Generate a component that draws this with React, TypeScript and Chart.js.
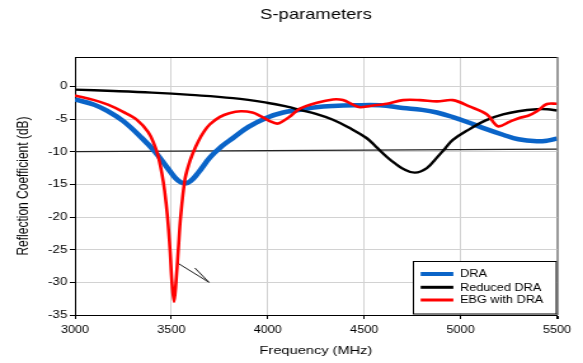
import React, { useEffect, useRef } from 'react';
import { Chart, registerables } from 'chart.js';

Chart.register(...registerables);

const FONT = "'Liberation Sans', Arial, sans-serif";

const chartTitle = 'S-parameters';
const xAxisTitle = 'Frequency (MHz)';
const yAxisTitle = 'Reflection Coefficient (dB)';

const xTicks = [3000, 3500, 4000, 4500, 5000, 5500];
const yTicks = [-35, -30, -25, -20, -15, -10, -5, 0];

const freqDRA = [3000, 3100, 3171, 3250, 3347, 3415, 3480, 3520, 3550, 3575, 3600, 3640, 3700, 3760, 3820, 3900, 3995, 4080, 4167, 4250, 4338, 4450, 4582, 4701, 4800, 4877, 4960, 5049, 5130, 5220, 5300, 5396, 5450, 5500];
const s11DRA = [-2.0, -2.8, -3.8, -5.3, -7.9, -10.0, -12.5, -14.0, -14.7, -14.85, -14.5, -13.2, -10.9, -9.2, -7.9, -6.2, -4.8, -4.0, -3.6, -3.2, -3.0, -2.9, -2.9, -3.3, -3.6, -4.0, -4.7, -5.6, -6.5, -7.4, -8.1, -8.4, -8.3, -8.0];

const freqReduced = [3000, 3200, 3400, 3600, 3820, 3995, 4100, 4167, 4250, 4338, 4420, 4512, 4560, 4618, 4660, 4701, 4763, 4825, 4877, 4920, 4960, 5049, 5130, 5220, 5300, 5396, 5450, 5500];
const s11Reduced = [-0.5, -0.7, -0.95, -1.3, -1.8, -2.5, -3.1, -3.6, -4.2, -5.1, -6.3, -7.9, -9.2, -10.8, -11.8, -12.6, -13.2, -12.5, -10.9, -9.5, -8.2, -6.5, -5.2, -4.3, -3.8, -3.5, -3.5, -3.7];

const freqEBG = [3000, 3100, 3171, 3250, 3320, 3380, 3410, 3430, 3450, 3465, 3480, 3493, 3503, 3514, 3524, 3536, 3548, 3570, 3590, 3612, 3640, 3670, 3700, 3750, 3800, 3860, 3920, 3960, 4010, 4048, 4080, 4115, 4167, 4255, 4338, 4390, 4442, 4478, 4530, 4582, 4618, 4701, 4789, 4877, 4960, 5049, 5137, 5194, 5256, 5308, 5350, 5396, 5448, 5500];
const s11EBG = [-1.4, -2.1, -2.8, -3.9, -5.1, -7.0, -8.8, -10.5, -13.2, -16.0, -20.0, -25.0, -30.0, -33.0, -30.0, -25.0, -20.0, -14.3, -12.0, -10.2, -8.4, -6.9, -5.8, -4.7, -4.1, -3.8, -4.0, -4.5, -5.3, -5.7, -5.3, -4.6, -3.4, -2.5, -2.0, -2.1, -2.8, -3.2, -3.0, -2.8, -2.65, -2.1, -2.1, -2.3, -2.1, -3.1, -4.3, -6.1, -5.4, -4.8, -4.5, -3.8, -2.7, -2.65];

const freqRef = [3000, 5500];
const s11Ref = [-10.0, -9.6];

// arrow annotation: shaft start, tip, wing; gap; wing, tip
const arrowX = [3530, 3695, 3622, NaN, 3579, 3695];
const arrowY = [-27.0, -30.0, -27.8, NaN, -29.0, -30.0];

const legendLabels = ['DRA', 'Reduced DRA', 'EBG with DRA'];
const legendColors = ['#0a64c8', '#000000', '#ff0000'];
const legendWidths = [4, 3, 3];

const zip = (xs: number[], ys: number[]) =>
  xs.map((x, i) => ({ x, y: Number.isNaN(ys[i]) ? null : ys[i] }));

const W = 459;
const H = 363;
const SX = 583 / W;

const textPlugin = {
  id: 'textPlugin',
  afterDraw(chart: any) {
    const { ctx, chartArea } = chart;
    const { left, right, top, bottom } = chartArea;
    ctx.save();
    ctx.strokeStyle = '#000';
    ctx.lineWidth = 1;
    ctx.beginPath();
    ctx.moveTo(left, top + 0.5);
    ctx.lineTo(right, top + 0.5);
    ctx.stroke();

    ctx.fillStyle = '#000';
    ctx.textAlign = 'center';
    ctx.textBaseline = 'middle';
    ctx.font = `14.5px ${FONT}`;
    ctx.fillText(chartTitle, (left + right) / 2, 15);

    ctx.font = `11.5px ${FONT}`;
    ctx.fillText(xAxisTitle, (left + right) / 2, 351);

    ctx.save();
    ctx.translate(18.5, (top + bottom) / 2);
    ctx.rotate(-Math.PI / 2);
    ctx.font = `12px ${FONT}`;
    ctx.fillText(yAxisTitle, 0, 0);
    ctx.restore();

    const bx0 = 325, bx1 = right, by0 = 261, by1 = 313.5;
    ctx.fillStyle = '#fff';
    ctx.fillRect(bx0, by0, bx1 - bx0, by1 - by0);
    ctx.strokeStyle = '#000';
    ctx.lineWidth = 1;
    ctx.strokeRect(bx0 + 0.5, by0 + 0.5, bx1 - bx0 - 1, by1 - by0);
    const rows = [274, 287.3, 300];
    ctx.textAlign = 'left';
    ctx.font = `10px ${FONT}`;
    legendLabels.forEach((lab, i) => {
      ctx.strokeStyle = legendColors[i];
      ctx.lineWidth = legendWidths[i];
      ctx.beginPath();
      ctx.moveTo(331.2, rows[i]);
      ctx.lineTo(356.9, rows[i]);
      ctx.stroke();
      ctx.fillStyle = '#000';
      ctx.fillText(lab, 362.2, rows[i] + 0.5);
    });
    ctx.restore();
  },
};

export default function App() {
  const ref = useRef<HTMLCanvasElement | null>(null);
  useEffect(() => {
    if (!ref.current) return;
    const chart = new Chart(ref.current, {
      type: 'line',
      data: {
        datasets: [
          {
            label: legendLabels[2],
            data: zip(freqEBG, s11EBG),
            borderColor: legendColors[2],
            borderWidth: 2.6,
            tension: 0.35,
            order: 0,
          },
          {
            label: legendLabels[1],
            data: zip(freqReduced, s11Reduced),
            borderColor: legendColors[1],
            borderWidth: 2.4,
            tension: 0.4,
            order: 1,
          },
          {
            label: legendLabels[0],
            data: zip(freqDRA, s11DRA),
            borderColor: legendColors[0],
            borderWidth: 4.5,
            tension: 0.4,
            order: 2,
          },
          {
            label: 'ref',
            data: zip(freqRef, s11Ref),
            borderColor: '#222',
            borderWidth: 1.2,
            tension: 0,
            order: 3,
          },
          {
            label: 'arrow',
            data: zip(arrowX, arrowY),
            borderColor: '#000',
            borderWidth: 0.9,
            tension: 0,
            spanGaps: false,
            order: 0,
          },
        ] as any,
      },
      options: {
        responsive: false,
        maintainAspectRatio: false,
        animation: false,
        parsing: false as any,
        layout: { padding: { left: 0, right: W - 438.5, top: 57, bottom: 0 } },
        elements: { point: { radius: 0, hoverRadius: 0 }, line: { fill: false } },
        plugins: {
          legend: { display: false },
          title: { display: false },
          tooltip: { enabled: false },
        },
        scales: {
          x: {
            type: 'linear',
            min: xTicks[0],
            max: xTicks[xTicks.length - 1],
            afterBuildTicks: (s: any) => {
              s.ticks = xTicks.map((v) => ({ value: v }));
            },
            afterFit: (s: any) => {
              s.height = 48;
            },
            ticks: {
              font: { family: FONT, size: 10 },
              color: '#000',
              padding: 5,
              maxRotation: 0,
              autoSkip: false,
              callback: (v: any) => String(v),
            },
            grid: {
              color: (c: any) => (c.tick && c.tick.value === 5500 ? '#9a9a9a' : '#d2d2d2'),
              lineWidth: (c: any) => (c.tick && c.tick.value === 5500 ? 2 : 1),
              tickColor: '#000',
              tickLength: 4,
            },
            border: { display: true, color: '#000', width: 1 },
          },
          y: {
            type: 'linear',
            min: -35,
            max: 4.5,
            afterBuildTicks: (s: any) => {
              s.ticks = yTicks.map((v) => ({ value: v }));
            },
            afterFit: (s: any) => {
              s.width = 59;
            },
            ticks: {
              font: { family: FONT, size: 10.5 },
              color: '#000',
              padding: 2,
              autoSkip: false,
              callback: (v: any) => String(v),
            },
            grid: {
              color: '#d2d2d2',
              tickColor: '#000',
              tickLength: 4,
            },
            border: { display: true, color: '#000', width: 1 },
          },
        },
      } as any,
      plugins: [textPlugin],
    });
    return () => chart.destroy();
  }, []);

  return (
    <div style={{ position: 'fixed', left: 0, top: 0, width: 583, height: 363, overflow: 'hidden', background: '#fff' }}>
      <canvas
        ref={ref}
        width={W}
        height={H}
        style={{ transform: `scaleX(${SX})`, transformOrigin: '0 0', display: 'block' }}
      />
    </div>
  );
}
